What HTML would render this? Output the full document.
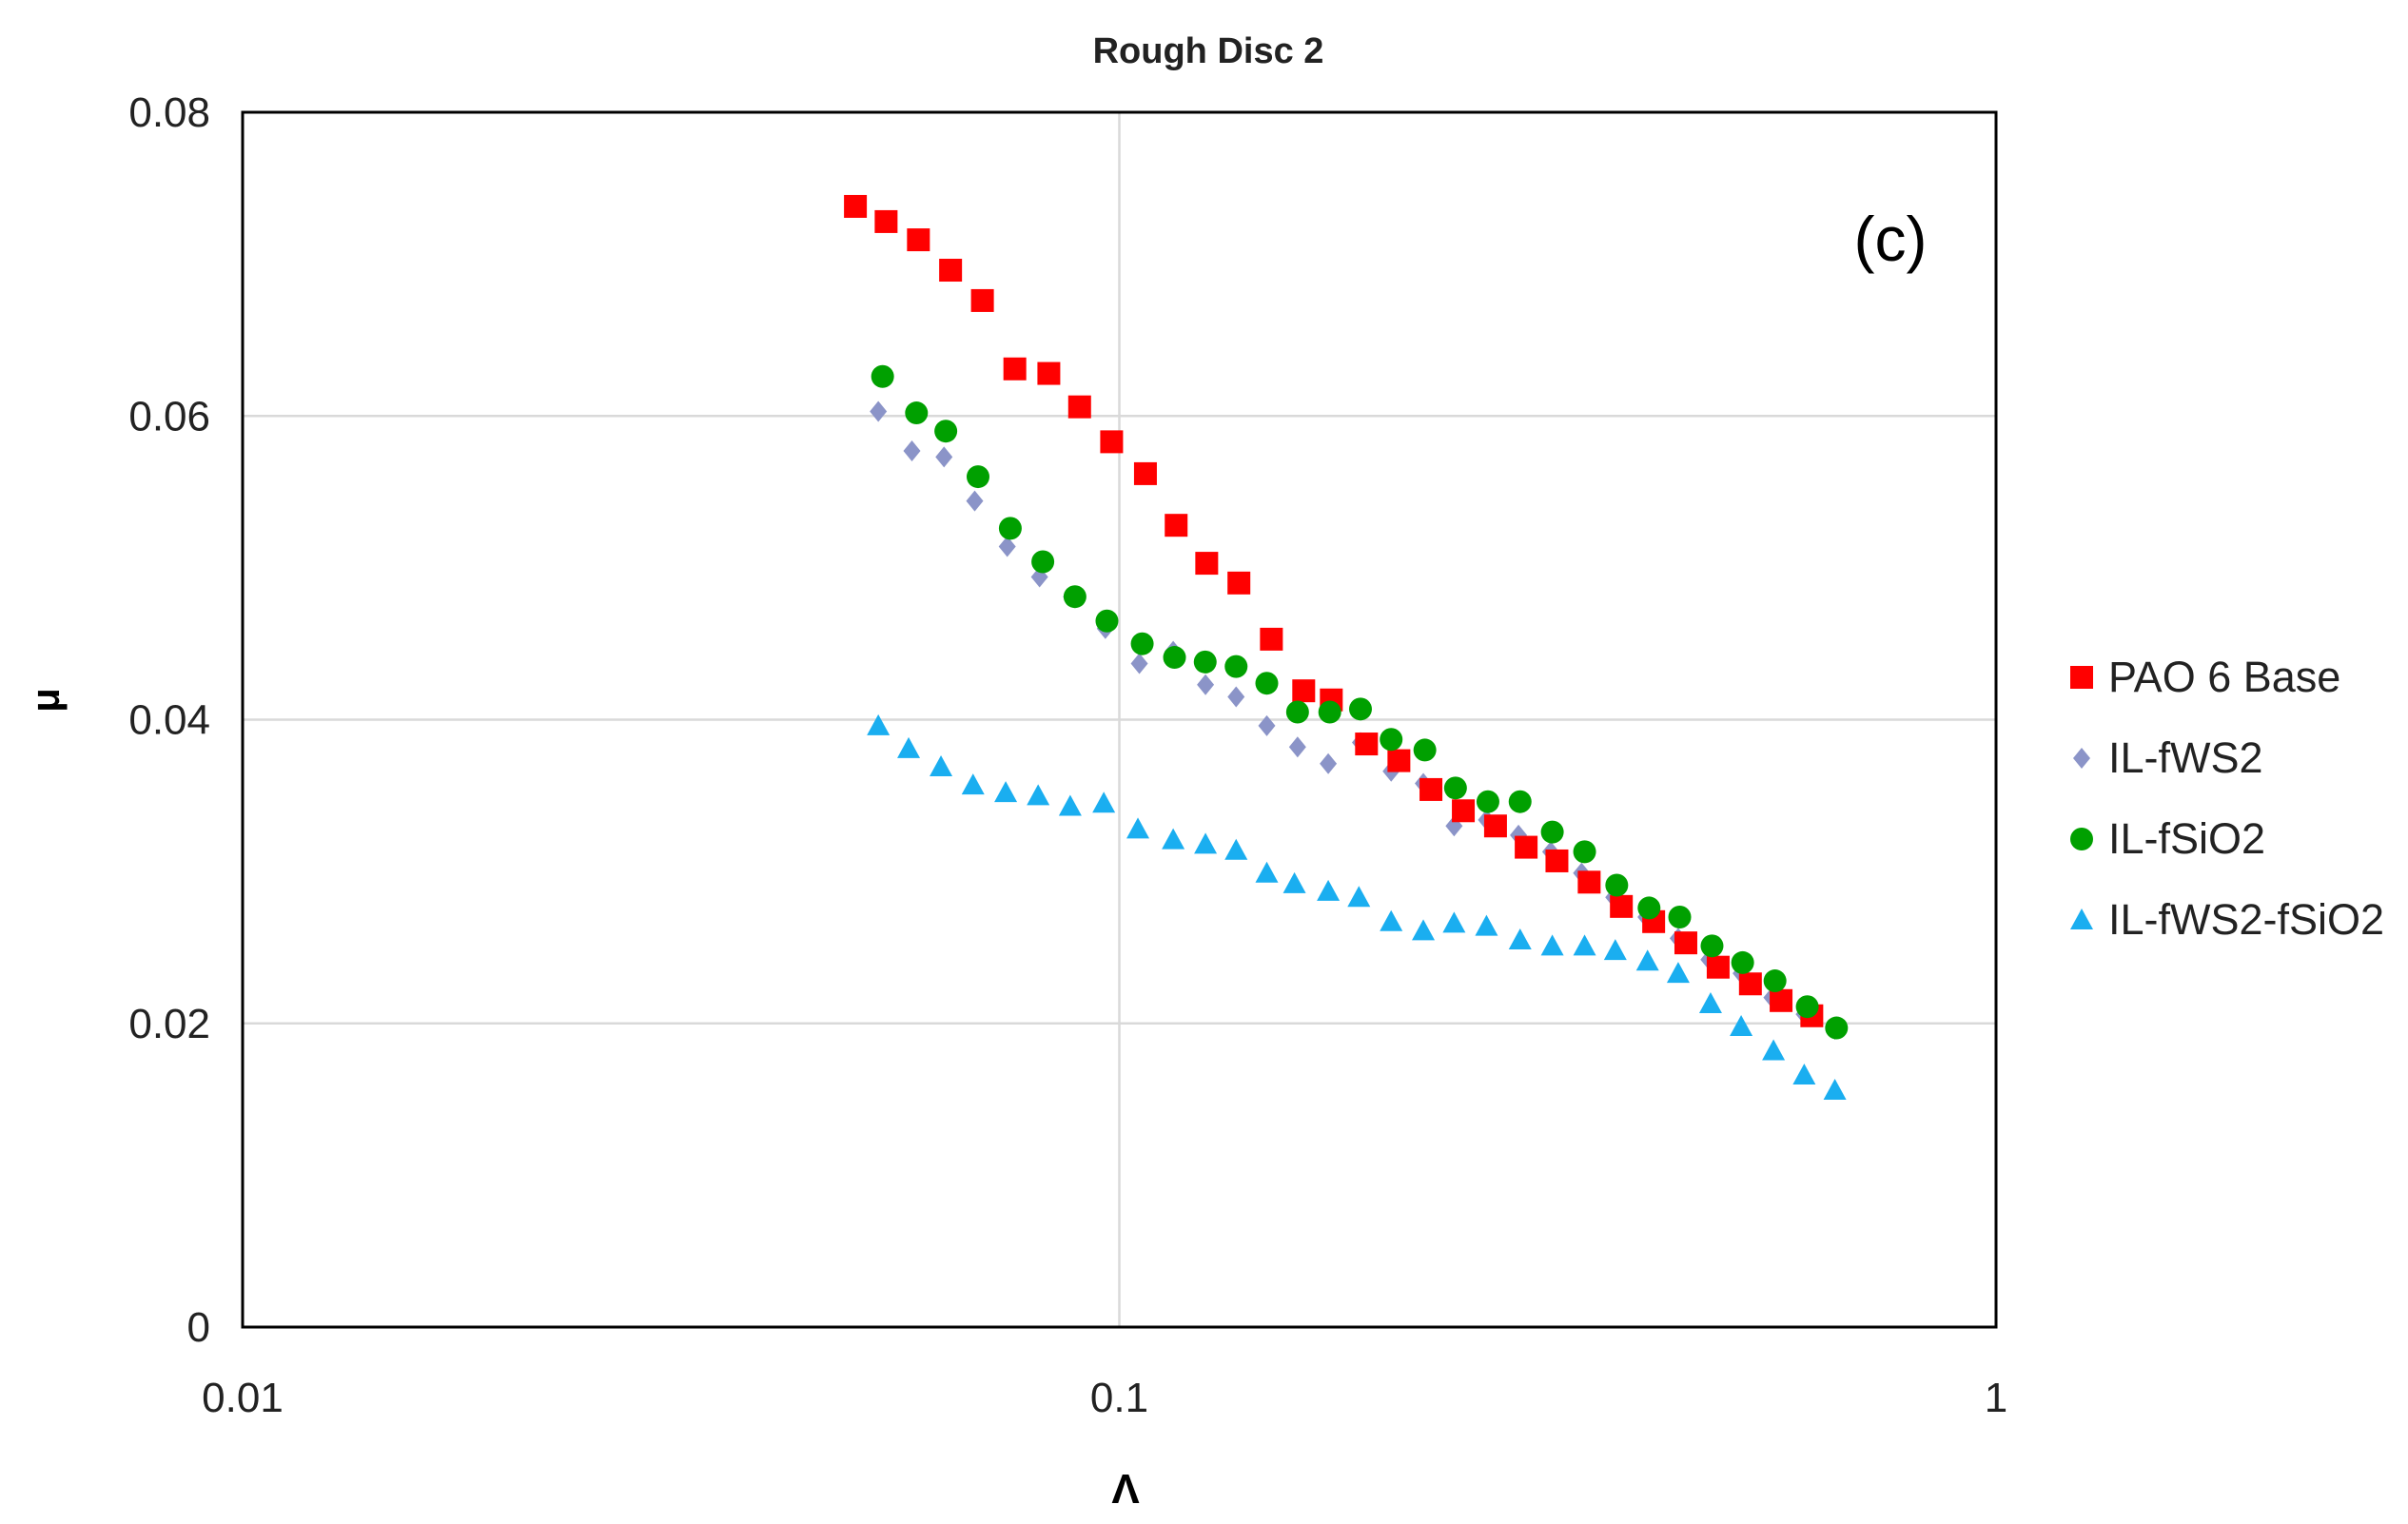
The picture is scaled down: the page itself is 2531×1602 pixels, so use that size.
<!DOCTYPE html>
<html><head><meta charset="utf-8"><style>
html,body{margin:0;padding:0;background:#fff;}
svg{display:block;font-family:"Liberation Sans","DejaVu Sans",sans-serif;}
</style></head><body>
<svg id="chart" width="2531" height="1602" viewBox="0 0 2531 1602" xmlns="http://www.w3.org/2000/svg">
<text x="1270" y="66" font-size="38" font-weight="bold" text-anchor="middle" fill="#222">Rough Disc 2</text>
<g id="grid"></g>
<g id="marks"></g>
<rect x="255" y="118" width="1843" height="1277" fill="none" stroke="#000" stroke-width="3"/>
<g id="ticks"></g>
<text x="1987" y="274" font-size="66" text-anchor="middle">(c)</text>
<text x="62" y="736" font-size="42" font-weight="bold" text-anchor="middle" transform="rotate(-90 62 736)">μ</text>
<text x="1183" y="1580" font-size="44" font-weight="bold" text-anchor="middle">Λ</text>
<g id="legend"></g>
</svg>
<script>
const seriesNames = ["PAO 6 Base","IL-fWS2","IL-fSiO2","IL-fWS2-fSiO2"];
const paoX = [0.050,0.0542,0.0590,0.0642,0.0698,0.0760,0.0831,0.0901,0.0980,0.1071,0.1161,0.1258,0.1369,0.1491,0.1623,0.1745,0.1914,0.2084,0.2267,0.2468,0.2686,0.2911,0.3156,0.3435,0.3738,0.4069,0.4428,0.4820,0.5246,0.5686,0.6164];
const paoY = [0.0738,0.0728,0.0716,0.0696,0.0676,0.0631,0.0628,0.0606,0.0583,0.0562,0.0528,0.0503,0.0490,0.0453,0.0419,0.0413,0.0384,0.0373,0.0354,0.0340,0.0330,0.0316,0.0307,0.0293,0.0277,0.0267,0.0253,0.0237,0.0226,0.0215,0.0205];
const ws2X = [0.0531,0.0580,0.0631,0.0684,0.0745,0.0811,0.0882,0.0964,0.1054,0.1152,0.1254,0.1359,0.1473,0.1597,0.1731,0.1884,0.2042,0.2222,0.2409,0.2623,0.2853,0.3105,0.3367,0.3664,0.3988,0.4340,0.4705,0.5120,0.5551,0.6042,0.6549];
const ws2Y = [0.0603,0.0577,0.0573,0.0544,0.0514,0.0494,0.0481,0.0460,0.0437,0.0445,0.0423,0.0415,0.0396,0.0382,0.0371,0.0385,0.0366,0.0358,0.0330,0.0334,0.0324,0.0313,0.0299,0.0283,0.0270,0.0256,0.0242,0.0233,0.0217,0.0206,0.0196];
const sioX = [0.0537,0.0587,0.0634,0.0690,0.0751,0.0818,0.0890,0.0968,0.1062,0.1156,0.1253,0.1359,0.1473,0.1597,0.1738,0.1884,0.2042,0.2231,0.2418,0.2633,0.2865,0.3118,0.3394,0.3693,0.4020,0.4357,0.4743,0.5140,0.5596,0.6091,0.6577];
const sioY = [0.0626,0.0602,0.0590,0.0560,0.0526,0.0504,0.0481,0.0465,0.0450,0.0441,0.0438,0.0435,0.0424,0.0405,0.0405,0.0407,0.0387,0.0380,0.0355,0.0346,0.0346,0.0326,0.0313,0.0291,0.0276,0.0270,0.0251,0.0240,0.0228,0.0211,0.0197];
const mixX = [0.0531,0.0575,0.0626,0.0681,0.0742,0.0808,0.0879,0.0960,0.1050,0.1152,0.1254,0.1359,0.1473,0.1584,0.1731,0.1876,0.2042,0.2222,0.2409,0.2623,0.2865,0.3118,0.3394,0.3679,0.4004,0.4340,0.4725,0.5120,0.5574,0.6042,0.6549];
const mixY = [0.0396,0.0381,0.0369,0.0357,0.0352,0.0350,0.0343,0.0345,0.0328,0.0321,0.0318,0.0314,0.0299,0.0292,0.0287,0.0283,0.0267,0.0261,0.0266,0.0264,0.0255,0.0251,0.0251,0.0248,0.0241,0.0233,0.0213,0.0198,0.0182,0.0166,0.0156];
const xTicks = [0.01,0.1,1];
const xTickLabels = ["0.01","0.1","1"];
const yTicks = [0,0.02,0.04,0.06,0.08];
const yTickLabels = ["0","0.02","0.04","0.06","0.08"];

const L=255,R=2098,T=118,B=1395;
const NS="http://www.w3.org/2000/svg";
function xs(v){return L+(Math.log10(v)+2)/2*(R-L);}
function ys(v){return B-v/0.08*(B-T);}
function mk(tag,attrs,parent){const e=document.createElementNS(NS,tag);for(const k in attrs)e.setAttribute(k,attrs[k]);parent.appendChild(e);return e;}
const grid=document.getElementById('grid'),marks=document.getElementById('marks'),ticks=document.getElementById('ticks'),legend=document.getElementById('legend');
yTicks.forEach((v,i)=>{
  if(v>0&&v<0.08){const g=mk('line',{x1:L,x2:R,y1:ys(v),y2:ys(v),stroke:'#d9d9d9','stroke-width':2.5},grid);
  
  }
  const t=mk('text',{x:221,y:ys(v)+15,'font-size':44,'text-anchor':'end',fill:'#222'},ticks);t.textContent=yTickLabels[i];
  
  
});
xTicks.forEach((v,i)=>{
  if(i===1){const g=mk('line',{x1:xs(v),x2:xs(v),y1:T,y2:B,stroke:'#d9d9d9','stroke-width':2.5},grid);
  
  }
  const t=mk('text',{x:xs(v),y:1484,'font-size':44,'text-anchor':'middle',fill:'#222'},ticks);t.textContent=xTickLabels[i];
  
  
});
function marker(shape,cx,cy,parent){
  if(shape==='square') return mk('rect',{x:cx-12,y:cy-12,width:24,height:24,fill:'#ff0000'},parent);
  if(shape==='diamond') return mk('polygon',{points:`${cx},${cy-11} ${cx+9},${cy} ${cx},${cy+11} ${cx-9},${cy}`,fill:'#8b94c8'},parent);
  if(shape==='circle') return mk('circle',{cx:cx,cy:cy,r:12,fill:'#00a000'},parent);
  return mk('polygon',{points:`${cx},${cy-12} ${cx+12},${cy+10} ${cx-12},${cy+10}`,fill:'#1aaef0'},parent);
}
const series=[[paoX,paoY,'square'],[ws2X,ws2Y,'diamond'],[sioX,sioY,'circle'],[mixX,mixY,'triangle']];
const drawOrder=[1,0,2,3];
drawOrder.forEach(si=>{
  const [X,Y,shape]=series[si];
  X.forEach((x,i)=>{const m=marker(shape,xs(x),ys(Y[i]),marks);
    
    });
});
seriesNames.forEach((n,i)=>{
  const cy=712+i*85;
  const m=marker(series[i][2],2188,cy,legend);
  
  
  const t=mk('text',{x:2216,y:cy+15,'font-size':45,fill:'#222'},legend);t.textContent=n;
  
  
});
</script>
</body></html>
